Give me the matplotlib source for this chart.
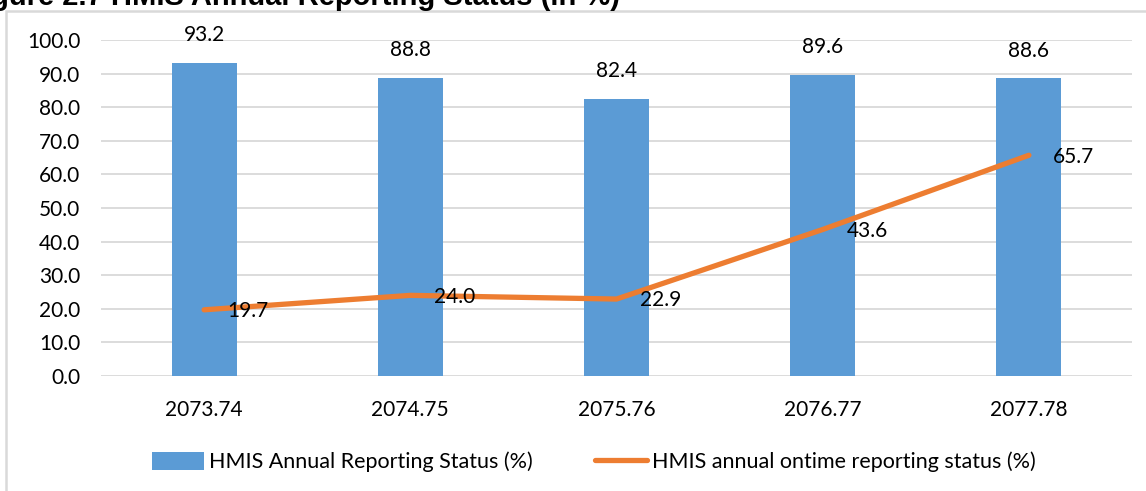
import matplotlib.pyplot as plt
from matplotlib.patches import Rectangle

# data
years = ['2073.74', '2074.75', '2075.76', '2076.77', '2077.78']
reporting = [93.2, 88.8, 82.4, 89.6, 88.6]
ontime = [19.7, 24.0, 22.9, 43.6, 65.7]
yticks = [0, 10, 20, 30, 40, 50, 60, 70, 80, 90, 100]

bar_color = '#5B9BD5'
line_color = '#ED7D31'
grid_color = '#D9D9D9'

plt.rcParams['font.family'] = ['Lato', 'DejaVu Sans']

fig = plt.figure(figsize=(11.46, 4.91), dpi=100)
ax = fig.add_axes([101 / 1146, 1 - 376 / 491, (1132 - 101) / 1146, (376 - 40) / 491])

x = list(range(len(years)))
bars = ax.bar(x, reporting, width=0.315, color=bar_color, zorder=2,
              label='HMIS Annual Reporting Status (%)')
line, = ax.plot(x, ontime, color=line_color, lw=3.8, solid_capstyle='round', zorder=3,
                label='HMIS annual ontime reporting status (%)')

for xi, v in zip(x, reporting):
    ax.annotate(f'{v:.1f}', (xi, v), xytext=(0, 20), textcoords='offset points',
                ha='center', va='center', fontsize=15, color='black')
for xi, v in zip(x, ontime):
    ax.annotate(f'{v:.1f}', (xi, v), xytext=(17, -1), textcoords='offset points',
                ha='left', va='center', fontsize=15, color='black', zorder=4)

ax.set_xlim(-0.5, 4.5)
ax.set_ylim(0, 100)
ax.set_yticks(yticks)
ax.set_yticklabels([f'{t:.1f}' for t in yticks])
ax.set_xticks(x)
ax.set_xticklabels(years)
ax.tick_params(axis='both', length=0, labelsize=15)
ax.tick_params(axis='y', pad=15)
ax.tick_params(axis='x', pad=17)
ax.grid(axis='y', color=grid_color, lw=1.3, zorder=0)
for s in ax.spines.values():
    s.set_visible(False)

fig.legend(handles=[bars, line], loc='center', bbox_to_anchor=(594 / 1146, 1 - 462 / 491),
           ncol=2, frameon=False, fontsize=15.5, handlelength=2.4, handleheight=0.9,
           columnspacing=2.9, handletextpad=0.25)

# outer chart frame, partly cut off by the crop
fig.patches.append(Rectangle((6 / 1146, -0.05), 1.1, 1 - 11 / 491 + 0.05,
                             transform=fig.transFigure, fill=False,
                             edgecolor=grid_color, lw=1.8))

# caption, cut off at the top edge as in the source picture
fig.text(620 / 1146, 1 - 5 / 491, 'Figure 2.7 HMIS Annual Reporting Status (in %)',
         ha='right', va='baseline', fontsize=21, fontweight='bold',
         family=['Liberation Sans', 'DejaVu Sans'])

fig.savefig('out.png', dpi=100)
